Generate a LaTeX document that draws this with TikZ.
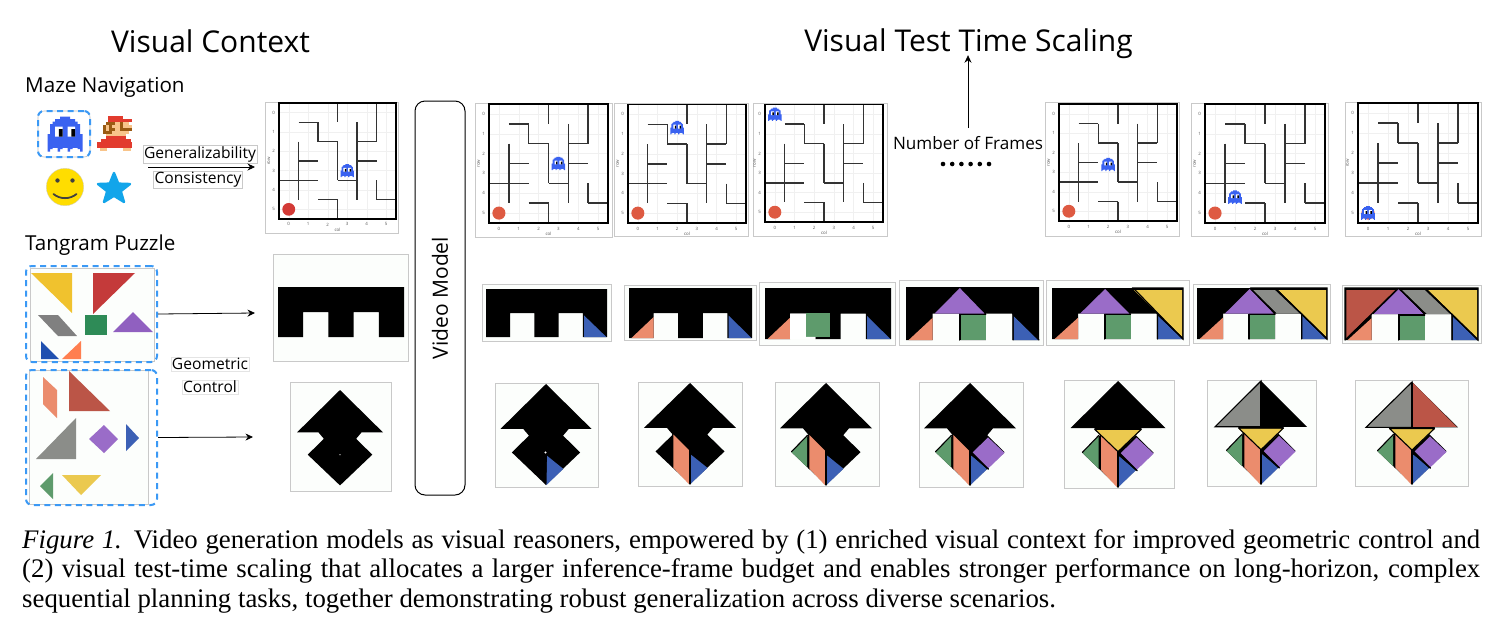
\documentclass[tikz,border=0pt]{standalone}
\usepackage{fontspec}
\setmainfont{Liberation Serif}
\setsansfont{Open Sans}
\usetikzlibrary{arrows.meta}

\definecolor{pBlue}{HTML}{3C60B5}
\definecolor{pOrange}{HTML}{EB8C6D}
\definecolor{pGreen}{HTML}{5E9B6C}
\definecolor{pPurple}{HTML}{9A6CC8}
\definecolor{pYellow}{HTML}{EBC94F}
\definecolor{pGray}{HTML}{8B8D89}
\definecolor{pRed}{HTML}{BB5547}
\definecolor{qBlue}{HTML}{2050B0}
\definecolor{qOrange}{HTML}{FF7F50}
\definecolor{qGreen}{HTML}{2E8B57}
\definecolor{qPurple}{HTML}{9060C0}
\definecolor{qYellow}{HTML}{F0C22E}
\definecolor{qGray}{HTML}{808080}
\definecolor{qRed}{HTML}{C43A3A}
\definecolor{dashBlue}{HTML}{3B99F5}
\definecolor{frameGray}{HTML}{C9C9C9}
\definecolor{frameBg}{HTML}{FCFEFC}
\definecolor{ghostBlue}{HTML}{3A62F0}
\definecolor{marRed}{HTML}{E23B2E}
\definecolor{marBrown}{HTML}{9A5B13}
\definecolor{marSkin}{HTML}{F8C48A}
\definecolor{goalRed}{HTML}{DE5A42}
\definecolor{goalDeep}{HTML}{D33A36}
\definecolor{smileYellow}{HTML}{FFDD00}
\definecolor{starBlue}{HTML}{12A5EA}
\colorlet{goalCol}{goalRed}

\tikzset{
  headline/.style={font=\sffamily\fontsize{30}{32}\selectfont,inner sep=0pt},
  subhead/.style={font=\sffamily\fontsize{20.6}{24}\selectfont,inner sep=0pt,anchor=west},
  tag/.style={font=\sffamily\fontsize{15.6}{18}\selectfont,inner sep=1pt,draw=frameGray,line width=.5pt},
  plainlabel/.style={font=\sffamily\fontsize{17.1}{20}\selectfont,inner sep=0pt},
  capline/.style={font=\fontsize{26.8}{28}\selectfont,inner sep=0pt,anchor=base west},
  flow/.style={-{Stealth[length=7.5pt,width=7pt]},line width=.8pt,black},
  framebox/.style={draw=frameGray,fill=frameBg,line width=.8pt},
  tick/.style={font=\sffamily\fontsize{4.4}{4.4}\selectfont,text=black!65,inner sep=0pt},
  wall/.style={line width=1.5pt,black!80},
  edgeline/.style={line width=1.1pt,black,line cap=round},
  dashpanel/.style={draw=dashBlue,dash pattern=on 6pt off 4.5pt,line width=2pt,rounded corners=6pt,inner sep=0pt}
}

% Pixel ghost: centre, then horizontal and vertical size of one pixel
\newcommand{\ghostshape}[3]{%
  \begin{scope}[shift={(#1)},x=#2 pt,y=-#3 pt,shift={(-7,-7)}]
    \fill[ghostBlue] (5,0)-|(9,1)-|(11,2)-|(12,3)-|(13,7)-|(14,14)-|(13,13)-|(12,12.5)-|(10,13)-|(9,14)-|(8,12.5)-|(6,13)-|(5,14)-|(4,12.5)-|(2,13)-|(1,14)-|(0,7)-|(1,3)-|(2,2)-|(3,1)-|(5,0)--cycle;
    \fill[white] (3,4) rectangle (6,8) (8,4) rectangle (11,8);
    \fill[black] (4.5,5) rectangle (6,8) (9.5,5) rectangle (11,8);
  \end{scope}}

% Ghost placed on a maze plot at "column,row"
\def\ghostcell#1,#2;{%
  \pgfmathsetmacro\gsx{\cellx*.68/14}
  \pgfmathsetmacro\gsy{\celly*.68/14}
  \ghostshape{#1+.5,#2+.5}{\gsx}{\gsy}}

% One maze plot: outer frame, plotting area, grid, walls, goal and the ghost at (column,row)
\newcommand{\mazeplot}[9]{%
  \draw[framebox,fill=white] (#1,#2) rectangle (#3,#4);
  \pgfmathsetmacro\cellx{(#7-#5)/6}
  \pgfmathsetmacro\celly{(#8-#6)/6}
  \begin{scope}[shift={(#5,#6)},x=\cellx pt,y=-\celly pt]
    \foreach \k in {0,...,5}{
      \draw[black!6,line width=.4pt] (\k+.5,0) -- (\k+.5,6) (0,\k+.5) -- (6,\k+.5);
      \node[tick] (rowtick\k) at (-.27,\k+.5) {\k};
      \node[tick] (coltick\k) at (\k+.5,6.28) {\k};
    }
    \node[tick,rotate=90] (rowname) at (-.52,3) {row};
    \node[tick] (colname) at (3,6.55) {col};
    \draw[wall] (3,0)--(3,1) (5,0)--(5,2) (2,1)--(2,2) (3,2)--(3,4) (4,1)--(4,5)
      (1,2)--(1,5) (3,5)--(3,6) (5,4)--(5,5)
      (1,1)--(2,1) (2,2)--(3,2) (3,4)--(4,4) (4,2)--(5,2) (4,3)--(5,3) (1,3)--(2,3)
      (0,4)--(2,4) (2,5)--(3,5) (5,5)--(6,5);
    \draw[black,line width=1.8pt] (0,0) rectangle (6,6);
    \fill[goalCol] (.5,5.5) circle[radius=.33];
    \ghostcell#9;
  \end{scope}}

% Tangram pieces of the comb-shaped target, in units of its width and height
\newcommand{\combbase}{\fill[black] (0,0) -- (1,0) -- (1,1) -- (.8,1) -- (.8,.5) -- (.6,.5) -- (.6,1) -- (.4,1) -- (.4,.5) -- (.2,.5) -- (.2,1) -- (0,1) -- cycle;}
\newcommand{\cBlue}{\fill[pBlue] (.81,.55) -- (.81,1) -- (.995,1) -- cycle;}
\newcommand{\cOrange}{\fill[pOrange] (.02,1) -- (.2,.58) -- (.2,1) -- cycle;}
\newcommand{\cGreen}{\fill[pGreen] (.41,.52) rectangle (.6,1);}
\newcommand{\cPurple}{\fill[pPurple] (.405,.02) -- (.59,.5) -- (.215,.5) -- cycle;}
\newcommand{\cYellow}{\fill[pYellow] (.625,.04) -- (.995,.04) -- (.995,.96) -- cycle;}
\newcommand{\cGray}{\fill[pGray] (.43,.04) -- (.6,.04) -- (.79,.5) -- (.615,.5) -- cycle;}
\newcommand{\cRed}{\fill[pRed] (.01,.04) -- (.385,.04) -- (.01,.96) -- cycle;}
\newcommand{\cEdgeBlue}{\draw[edgeline] (.805,.5) -- (.805,1) (.8,.5) -- (1,1);}
\newcommand{\cEdgeGreen}{\draw[edgeline] (.4,1) -- (.4,.52) -- (.6,.52);}

% A framed comb target
\newcommand{\combframe}[9]{%
  \draw[framebox] (#1,#2) rectangle (#3,#4);
  \pgfmathsetmacro\unitx{#7-#5}
  \pgfmathsetmacro\unity{#8-#6}
  \begin{scope}[shift={(#5,#6)},x=\unitx pt,y=-\unity pt]
    \combbase #9
  \end{scope}}

% Tangram pieces of the arrow-shaped target: origin at the apex, half a base edge per two units
\newcommand{\arrowbase}{\fill[black] (0,0) -- (2,2) -- (1,2) -- (.75,2.3) -- (1.5,3.05) -- (0,4.5) -- (-1.5,3.05) -- (-.75,2.3) -- (-1,2) -- (-2,2) -- cycle;}
\newcommand{\aBlue}{\fill[pBlue] (.05,3.2) -- (.76,3.78) -- (.02,4.5) -- cycle;}
\newcommand{\aOrange}{\fill[pOrange] (-.72,2.3) -- (-.05,2.98) -- (-.05,4.5) -- (-.72,3.78) -- cycle;}
\newcommand{\aGreen}{\fill[pGreen] (-.82,2.35) -- (-1.5,3.05) -- (-.82,3.72) -- cycle;}
\newcommand{\aPurple}{\fill[pPurple] (.78,2.4) -- (1.5,3.08) -- (.78,3.78) -- (.1,3.08) -- cycle;}
\newcommand{\aYellow}{\fill[pYellow] (-.98,2.08) -- (.98,2.08) -- (0,3) -- cycle;}
\newcommand{\aGray}{\fill[pGray] (-.05,.05) -- (-1.95,1.98) -- (-.05,1.98) -- cycle;}
\newcommand{\aRed}{\fill[pRed] (.05,.05) -- (1.95,1.98) -- (.05,1.98) -- cycle;}
\newcommand{\aEdgeBlue}{\draw[edgeline] (0,3.05) -- (0,4.5) (0,3.1) -- (.76,3.78);}
\newcommand{\aEdgeOrange}{\draw[edgeline] (-.75,2.3) -- (-.75,3.75) (0,3) -- (0,4.5);}
\newcommand{\aEdgeGreen}{\draw[edgeline] (-.8,2.3) -- (-1.5,3.03);}
\newcommand{\aEdgePurple}{\draw[edgeline,line width=1.4pt] (.05,3.05) -- (.8,3.8);}
\newcommand{\aEdgeYellow}{\draw[edgeline] (-.98,2.05) -- (.98,2.05) (-.98,2.05) -- (0,3) -- (.98,2.05);}

% A framed arrow target: frame, apex, half base, height to the bottom tip
\newcommand{\arrowframe}[9]{%
  \draw[framebox] (#1,#2) rectangle (#3,#4);
  \pgfmathsetmacro\unitx{#7/2}
  \pgfmathsetmacro\unity{#8/4.5}
  \begin{scope}[shift={(#5,#6)},x=\unitx pt,y=-\unity pt]
    \arrowbase #9
  \end{scope}}

% Row of pixels for the plumber sprite
\newcommand{\px}[4]{\fill[#1] (#3*2.92+97,#2*2.92+116) rectangle (#4*2.92+97,#2*2.92+119.02);}

\begin{document}
\begin{tikzpicture}[x=1pt,y=-1pt]
\useasboundingbox (0,0) rectangle (1501,630);
\fill[white] (0,0) rectangle (1501,630);

% Headings
\node[headline] (titleContext) at (210.5,41) {Visual Context};
\node[headline] (titleScale) at (968.5,44) {Visual Test Time Scaling};
\node[subhead] (mazeHead) at (25,87) {Maze Navigation};
\node[subhead] (tangramHead) at (25,245) {Tangram Puzzle};

% Icon choices for the maze task
\draw[black!25,line width=.6pt,rounded corners=6pt] (38,111) rectangle (90,157);
\ghostshape{65,134}{2.5}{2.5}
\node[dashpanel,minimum width=52pt,minimum height=46pt] (ghostPick) at (64,134) {};
\px{marRed}{0}{3.6}{9}
\px{marRed}{1}{3.6}{12}
\px{marBrown}{2}{3}{6}\px{marSkin}{2}{6}{8}\px{marBrown}{2}{8}{9}\px{marSkin}{2}{9}{11}
\px{marBrown}{3}{2}{3}\px{marSkin}{3}{3}{4}\px{marBrown}{3}{4}{5}\px{marSkin}{3}{5}{8}\px{marBrown}{3}{8}{9}\px{marSkin}{3}{9}{12}
\px{marBrown}{4}{2}{3}\px{marSkin}{4}{3}{4}\px{marBrown}{4}{4}{6}\px{marSkin}{4}{6}{8}\px{marBrown}{4}{8}{12}
\px{marBrown}{5}{2}{5}\px{marSkin}{5}{5}{11}
\px{marSkin}{6}{3}{10}
\px{marRed}{7}{3}{10}
\px{marRed}{8}{1.5}{11.5}
\px{marRed}{9}{0}{12}
\px{marRed}{10}{0}{12}
\px{marSkin}{11}{1}{3.5}\px{marSkin}{11}{9}{11.5}
\fill[smileYellow,draw=black!20,line width=.3pt] (65,187) circle[radius=18.7];
\fill[black!75] (57.5,180.5) circle[radius=2.2] (72.5,180.5) circle[radius=2.2];
\draw[black!75,line width=1.8pt,line cap=round] (53.5,194) .. controls (60,199.5) and (70,199.5) .. (76.5,194);
\fill[starBlue,draw=starBlue,line width=2.4pt,line join=round] (114,173) -- (118.3,183.6) -- (130,184) -- (120.8,191.2) -- (124,202) -- (114,195.8) -- (104,202) -- (107.2,191.2) -- (98,184) -- (109.7,183.6) -- cycle;

% Labels on the maze arrow
\node[tag] (general) at (200,154.5) {Generalizability};
\node[tag] (consist) at (198,179.5) {Consistency};
\coordinate (mazeFrom) at (148,167);
\coordinate (mazeTo) at (255,167);
\draw[flow] (mazeFrom) -- (mazeTo);

% Context maze
\colorlet{goalCol}{goalDeep}
\begin{scope}[name prefix=ctx-]
\mazeplot{265}{102}{398}{233}{279}{103}{396}{219}{3,3}
\end{scope}
\colorlet{goalCol}{goalRed}

% Tangram piece panels
\draw[framebox] (30,268) rectangle (154,361);
\fill[qYellow] (31,273) -- (72,273) -- (72,313) -- cycle;
\fill[qRed] (93,273) -- (135,273) -- (93,314) -- cycle;
\fill[qGray] (38,315) -- (58,315) -- (77,336) -- (58,336) -- cycle;
\fill[qGreen] (85,315) rectangle (107,335);
\fill[qPurple] (133,312) -- (153,332) -- (113,332) -- cycle;
\fill[qBlue] (41,341) -- (41,359) -- (59,359) -- cycle;
\fill[qOrange] (81,341) -- (81,359) -- (62,359) -- cycle;
\node[dashpanel,minimum width=131pt,minimum height=96pt] (panelComb) at (91.5,314) {};

\draw[framebox] (29,370) rectangle (148,504);
\fill[pOrange] (43,377) -- (57,390) -- (57,418) -- (43,404) -- cycle;
\fill[pRed] (69,371) -- (69,411) -- (110,411) -- cycle;
\fill[pGray] (76,418) -- (76,459) -- (36,459) -- cycle;
\fill[pPurple] (104,425) -- (118,439) -- (104,453) -- (89,439) -- cycle;
\fill[pBlue] (126,424) -- (139,438) -- (126,451) -- cycle;
\fill[pGreen] (53,473) -- (53,499) -- (40,486) -- cycle;
\fill[pYellow] (62,475) -- (101,475) -- (81,495) -- cycle;
\node[dashpanel,minimum width=131pt,minimum height=135pt] (panelArrow) at (91.5,437.5) {};

% Geometric control arrows and labels
\coordinate (combEnd) at (255,313);
\coordinate (arrowEnd) at (253,437);
\draw[flow] (panelComb.east) -- (combEnd);
\draw[flow] (panelArrow.east) -- (arrowEnd);
\node[tag,draw=frameGray!50] (geoWord) at (210,364) {Geometric};
\node[tag,draw=frameGray!50] (ctrlWord) at (210,387) {Control};

% Context targets
\draw[framebox] (273,254) rectangle (408,361);
\begin{scope}[shift={(278,287)},x=126pt,y=-50pt]\combbase\end{scope}
\draw[framebox] (290,382) rectangle (391,491);
\begin{scope}[shift={(340,390)},x=21.5pt,y=-21.2pt]\arrowbase\fill[white] (0,3.05) circle[radius=.03];\end{scope}

% Model block
\node[draw=black,line width=1pt,rounded corners=10pt,minimum width=50pt,minimum height=394pt,inner sep=0pt] (videoModel) at (440,298) {};
\node[plainlabel,rotate=90,font=\sffamily\fontsize{21}{24}\selectfont] (videoWord) at (440,298) {Video Model};

% Frame budget marker
\node[plainlabel] (frameCount) at (968,143) {Number of Frames};
\draw[flow] ([yshift=8pt]frameCount.north) -- ([yshift=4pt]titleScale.south -| frameCount.north);
\foreach \d in {0,...,5}{\fill[black] (943+\d*9.2,164) circle[radius=2.3];}

% Maze rollout
\begin{scope}[name prefix=a-]\mazeplot{475}{103}{612}{237}{489}{104}{608}{223}{3,2.5}\end{scope}
\begin{scope}[name prefix=b-]\mazeplot{614}{103}{748}{236}{628}{104.5}{746}{223}{2,.67}\end{scope}
\begin{scope}[name prefix=c-]\mazeplot{753}{103}{887}{236}{765}{104.5}{883}{222}{0,0}\end{scope}
\begin{scope}[name prefix=d-]\mazeplot{1045}{102}{1179}{236}{1059}{104}{1177}{221}{2,2.6}\end{scope}
\begin{scope}[name prefix=e-]\mazeplot{1191}{103}{1328}{236}{1205}{104}{1325}{223}{1,4.2}\end{scope}
\begin{scope}[name prefix=f-]\mazeplot{1345}{102}{1481}{236}{1358}{103}{1478}{223}{0,5}\end{scope}

% Comb tangram rollout
\combframe{482}{284}{611}{341}{486}{289}{607}{337}{\cBlue}
\combframe{624}{285}{756}{340}{629}{288}{752}{338}{\cBlue\cOrange}
\combframe{759}{282}{895}{345}{765}{288}{891}{339}{\cBlue\cOrange\fill[pGreen] (.325,.49) rectangle (.516,.96);\fill[white] (.2,.5) rectangle (.325,1) (.325,.96) rectangle (.4,1);}
\combframe{899}{280}{1043}{345}{906}{287}{1039}{340}{\cBlue\cOrange\cPurple\cGreen\cEdgeGreen\cEdgeBlue}
\combframe{1046}{280}{1189}{345}{1052}{288}{1183}{339}{\cBlue\cOrange\cPurple\cGreen\cYellow\cEdgeGreen\cEdgeBlue
  \draw[edgeline] (.62,0) -- (1,0) -- (1,1) -- cycle;}
\combframe{1193}{284}{1330}{343}{1197}{288}{1327}{339}{\cBlue\cOrange\cPurple\cGreen\cGray\cYellow\cEdgeGreen\cEdgeBlue
  \draw[edgeline] (.41,0) -- (1,0) -- (1,1) -- (.6,0) (.41,0) -- (.6,.5);}
\combframe{1342}{285}{1481}{343}{1345}{288}{1478}{340}{\cBlue\cOrange\cPurple\cGreen\cGray\cYellow\cRed\cEdgeGreen\cEdgeBlue
  \draw[edgeline] (0,1) -- (0,0) -- (1,0) -- (1,1) -- (.6,0) (.4,0) -- (.6,.5) (.4,0) -- (0,1);}

% Arrow tangram rollout
\arrowframe{495}{383}{598}{487}{546}{384}{45.5}{101}{\aBlue\fill[white] (-.02,3.05) circle[radius=.05];}
\arrowframe{638}{382}{742}{486}{690}{383}{46}{101}{\aOrange\aBlue\aEdgeOrange}
\arrowframe{775}{382}{879}{486}{826}{383}{46}{102}{\aOrange\aBlue\aGreen\aEdgeOrange\aEdgeGreen}
\arrowframe{919}{382}{1023}{487}{970}{383}{46}{102}{\aOrange\aBlue\aGreen\aPurple\aEdgeOrange\aEdgeGreen\aEdgePurple\aEdgeBlue}
\arrowframe{1064}{380}{1174}{488}{1118}{381}{47.5}{106}{\aOrange\aBlue\aGreen\aPurple\aYellow\aEdgeOrange\aEdgeGreen\aEdgePurple\aEdgeBlue\aEdgeYellow}
\arrowframe{1207}{380}{1316}{486}{1261}{381}{46}{103}{\aOrange\aBlue\aGreen\aPurple\aYellow\aGray\aEdgeOrange\aEdgeGreen\aEdgePurple\aEdgeBlue\aEdgeYellow
  \draw[edgeline] (0,0) -- (-2,2) -- (0,2) -- cycle;}
\arrowframe{1355}{380}{1468}{486}{1412}{382}{46}{102}{\aOrange\aBlue\aGreen\aPurple\aYellow\aGray\aRed\aEdgeOrange\aEdgeGreen\aEdgePurple\aEdgeBlue\aEdgeYellow
  \draw[edgeline] (0,0) -- (-2,2) -- (0,2) -- cycle;}

% Caption
\node[capline] (cap1) at (22,548) {\makebox[1458pt][s]{\textit{Figure 1.} Video generation models as visual reasoners, empowered by (1) enriched visual context for improved geometric control and}};
\node[capline] (cap2) at (22,577.5) {\makebox[1458pt][s]{(2) visual test-time scaling that allocates a larger inference-frame budget and enables stronger performance on long-horizon, complex}};
\node[capline] (cap3) at (22,607) {sequential planning tasks, together demonstrating robust generalization across diverse scenarios.};
\end{tikzpicture}
\end{document}
